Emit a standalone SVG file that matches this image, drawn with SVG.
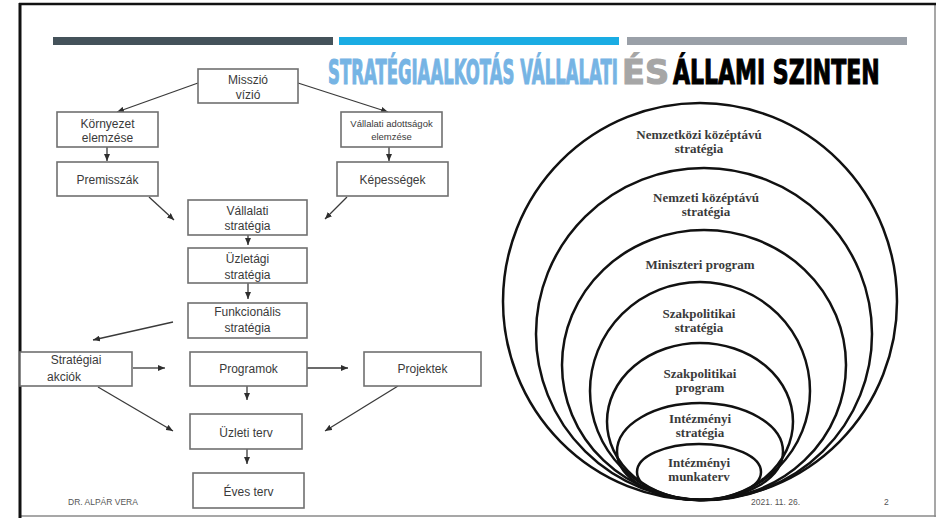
<svg xmlns="http://www.w3.org/2000/svg" width="937" height="518" viewBox="0 0 937 518">
<defs>
<marker id="ah" markerUnits="userSpaceOnUse" markerWidth="7" markerHeight="6" refX="7" refY="3" orient="auto">
<path d="M0,0 L7,3 L0,6 z" fill="#2e2e2e"/>
</marker>
<style>
.box{fill:#fff;stroke:#707070;stroke-width:1.6}
.bt{font-family:"Liberation Sans",Arial,sans-serif;font-size:12px;fill:#3a3a3a;text-anchor:middle}
.bts{font-family:"Liberation Sans",Arial,sans-serif;font-size:9.5px;fill:#3a3a3a;text-anchor:middle}
.con line{stroke:#3a3a3a;stroke-width:1.3;marker-end:url(#ah)}
.ell{fill:none;stroke:#111;stroke-width:2.5}
.et{font-family:"Liberation Serif","Times New Roman",serif;font-weight:bold;font-size:13px;fill:#3a3a3a;text-anchor:middle}
.ft{font-family:"Liberation Sans",Arial,sans-serif;font-size:8.5px;fill:#555}
.ttl{font-family:"DejaVu Sans",sans-serif;font-weight:bold;font-size:34px;stroke-width:1.2}
</style>
</defs>
<rect x="0" y="0" width="937" height="518" fill="#fff"/>
<!-- slide frame -->
<line x1="935" y1="3" x2="935" y2="517" stroke="#8a8a8a" stroke-width="1.5"/>
<line x1="19" y1="516" x2="936" y2="516" stroke="#8a8a8a" stroke-width="1.5"/>
<line x1="19" y1="4" x2="936" y2="4" stroke="#111" stroke-width="2.5"/>
<line x1="20" y1="3" x2="20" y2="518" stroke="#111" stroke-width="3"/>
<!-- header bars -->
<rect x="53" y="37" width="280" height="8" fill="#44525a"/>
<rect x="339" y="37" width="280" height="8" fill="#1aace3"/>
<rect x="627" y="37" width="280" height="8" fill="#9aa0a8"/>
<!-- title -->
<g id="title">
<text class="ttl" transform="translate(328,84) scale(0.48,1)" x="0" y="0" fill="#76b4e4" stroke="#76b4e4" textLength="604" lengthAdjust="spacingAndGlyphs">STRATÉGIAALKOTÁS VÁLLALATI</text>
<text class="ttl" transform="translate(622,84) scale(1,1)" x="0" y="0" fill="#a6a6a6" stroke="#a6a6a6" textLength="47" lengthAdjust="spacingAndGlyphs">ÉS</text>
<text class="ttl" transform="translate(673,84) scale(0.65,1)" x="0" y="0" fill="#000" stroke="#000" textLength="318" lengthAdjust="spacingAndGlyphs">ÁLLAMI SZINTEN</text>
</g>
<!-- connectors -->
<g id="connectors" class="con">
<line x1="198" y1="83" x2="117" y2="112"/>
<line x1="298" y1="83" x2="388" y2="112"/>
<line x1="107" y1="147" x2="107" y2="161"/>
<line x1="389" y1="147" x2="389" y2="161"/>
<line x1="149" y1="197" x2="174" y2="220"/>
<line x1="347" y1="197" x2="325" y2="219"/>
<line x1="248" y1="235" x2="248" y2="245"/>
<line x1="248" y1="283" x2="248" y2="299"/>
<line x1="173" y1="322" x2="93" y2="340"/>
<line x1="133" y1="368" x2="165" y2="368"/>
<line x1="307" y1="368" x2="348" y2="368"/>
<line x1="247" y1="386" x2="247" y2="400"/>
<line x1="98" y1="387" x2="173" y2="431"/>
<line x1="398" y1="386" x2="325" y2="431"/>
<line x1="247" y1="449" x2="247" y2="464"/>
</g>
<!-- flowchart nodes -->
<g id="n-misszio"><rect class="box" x="198" y="69" width="100" height="34"/><text class="bt" x="248" y="84">Misszió</text><text class="bt" x="248" y="99">vízió</text></g>
<g id="n-kornyezet"><rect class="box" x="57" y="112" width="101" height="35"/><text class="bt" x="107.5" y="128">Környezet</text><text class="bt" x="107.5" y="142">elemzése</text></g>
<g id="n-adottsagok"><rect class="box" x="341" y="112" width="101" height="35"/><text class="bts" x="391.5" y="127">Vállalati adottságok</text><text class="bts" x="391.5" y="140">elemzése</text></g>
<g id="n-premisszak"><rect class="box" x="57" y="162" width="101" height="34"/><text class="bt" x="107.5" y="184">Premisszák</text></g>
<g id="n-kepessegek"><rect class="box" x="337" y="162" width="111" height="34"/><text class="bt" x="392.5" y="184">Képességek</text></g>
<g id="n-vallalati"><rect class="box" x="188" y="200" width="119" height="35"/><text class="bt" x="247.5" y="215">Vállalati</text><text class="bt" x="247.5" y="230">stratégia</text></g>
<g id="n-uzletagi"><rect class="box" x="188" y="248" width="119" height="35"/><text class="bt" x="247.5" y="263">Üzletági</text><text class="bt" x="247.5" y="279">stratégia</text></g>
<g id="n-funkcionalis"><rect class="box" x="188" y="303" width="119" height="35"/><text class="bt" x="247.5" y="316">Funkcionális</text><text class="bt" x="247.5" y="332">stratégia</text></g>
<g id="n-akciok"><rect class="box" x="20" y="352" width="112" height="34"/><text class="bt" x="76" y="364">Stratégiai</text><text class="bt" x="64" y="381">akciók</text></g>
<g id="n-programok"><rect class="box" x="190" y="352" width="117" height="34"/><text class="bt" x="248.5" y="373">Programok</text></g>
<g id="n-projektek"><rect class="box" x="364" y="352" width="117" height="34"/><text class="bt" x="422.5" y="373">Projektek</text></g>
<g id="n-uzleti"><rect class="box" x="190" y="414" width="112" height="35"/><text class="bt" x="246" y="437">Üzleti terv</text></g>
<g id="n-eves"><rect class="box" x="193" y="473" width="111" height="35"/><text class="bt" x="248.5" y="496">Éves terv</text></g>
<!-- nested strategy levels -->
<g id="e1"><ellipse class="ell" cx="700" cy="301.5" rx="197" ry="198.5"/><text class="et" x="699" y="139">Nemzetközi középtávú</text><text class="et" x="699" y="153">stratégia</text></g>
<g id="e2"><ellipse class="ell" cx="704" cy="334" rx="168" ry="166"/><text class="et" x="706" y="202">Nemzeti középtávú</text><text class="et" x="706" y="216">stratégia</text></g>
<g id="e3"><ellipse class="ell" cx="704" cy="365" rx="142" ry="135"/><text class="et" x="700" y="269">Miniszteri program</text></g>
<g id="e4"><ellipse class="ell" cx="700" cy="391" rx="110" ry="109"/><text class="et" x="699" y="318">Szakpolitikai</text><text class="et" x="699" y="332">stratégia</text></g>
<g id="e5"><ellipse class="ell" cx="700" cy="421.5" rx="93" ry="78.5"/><text class="et" x="700" y="378">Szakpolitikai</text><text class="et" x="700" y="392">program</text></g>
<g id="e6"><ellipse class="ell" cx="700" cy="451.5" rx="83" ry="48.5"/><text class="et" x="700" y="423">Intézményi</text><text class="et" x="700" y="437">stratégia</text></g>
<g id="e7"><ellipse class="ell" cx="699" cy="472" rx="62" ry="28"/><text class="et" x="699" y="467">Intézményi</text><text class="et" x="699" y="481">munkaterv</text></g>
<!-- footer -->
<text class="ft" x="68" y="505">DR. ALPÁR VERA</text>
<text class="ft" x="751" y="505">2021. 11. 26.</text>
<text class="ft" x="884" y="505">2</text>
</svg>
